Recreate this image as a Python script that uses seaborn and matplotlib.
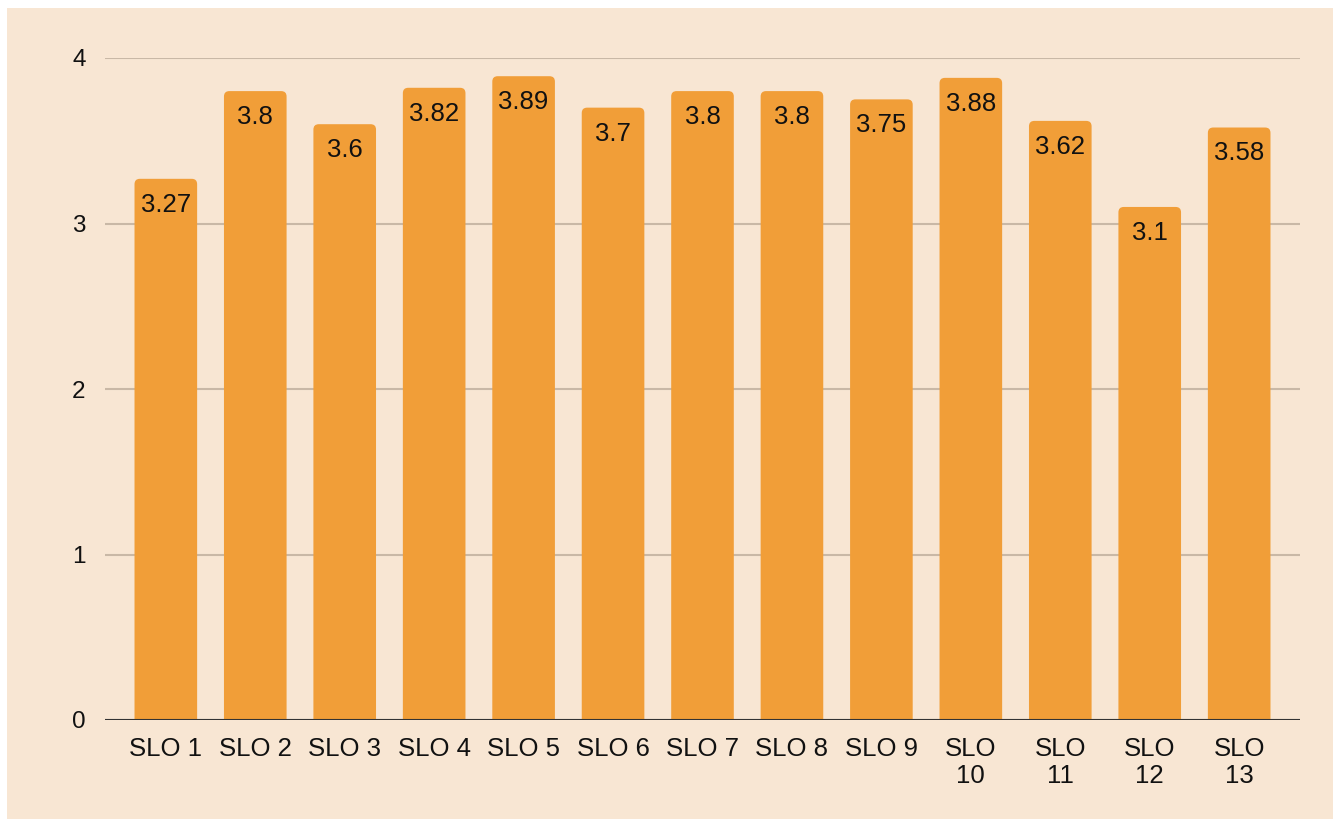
import seaborn as sns
import matplotlib.pyplot as plt
from matplotlib.patches import Rectangle, FancyBboxPatch

slos = ['SLO 1', 'SLO 2', 'SLO 3', 'SLO 4', 'SLO 5', 'SLO 6', 'SLO 7',
        'SLO 8', 'SLO 9', 'SLO\n10', 'SLO\n11', 'SLO\n12', 'SLO\n13']
scores = [3.27, 3.8, 3.6, 3.82, 3.89, 3.7, 3.8, 3.8, 3.75, 3.88, 3.62, 3.1, 3.58]
yticks = [0, 1, 2, 3, 4]

bg = '#F8E6D3'
bar_color = '#F19E38'

sns.set_style('white')
plt.rcParams['font.family'] = ['Liberation Sans', 'DejaVu Sans']

fig = plt.figure(figsize=(13.38, 8.19), dpi=100, facecolor='white')
# beige panel with thin white margin on top/left/right
fig.patches.append(Rectangle((7 / 1338, 0), (1333 - 7) / 1338, (819 - 8) / 819,
                             transform=fig.transFigure, facecolor=bg,
                             edgecolor='none', zorder=-1))
ax = fig.add_axes([105 / 1338, 1 - 720 / 819, (1300 - 105) / 1338, (720 - 58) / 819])
ax.set_facecolor(bg)

sns.barplot(x=slos, y=scores, color=bar_color, saturation=1, width=0.7,
            linewidth=0, ax=ax, zorder=3)

ax.set_ylim(0, 4)
ax.set_xlim(-0.68, 12.68)

# swap plain bars for ones with slightly rounded top corners
for p in list(ax.patches):
    x, w, h = p.get_x(), p.get_width(), p.get_height()
    p.remove()
    ax.add_patch(FancyBboxPatch((x, -0.1), w, h + 0.1,
                                boxstyle='round,pad=0,rounding_size=0.06',
                                mutation_aspect=0.54, facecolor=bar_color,
                                edgecolor='none', zorder=3))

for i, v in enumerate(scores):
    ax.annotate(f'{v:g}', (i, v), xytext=(0, -10), textcoords='offset points',
                ha='center', va='top', fontsize=18.5, color='#111111', zorder=4)

ax.set_yticks(yticks)
ax.yaxis.grid(True, color='#C9B8A6', linewidth=1.5, zorder=0)
ax.set_axisbelow(True)
ax.axhline(0, color='#333333', linewidth=1.5, zorder=5)
for s in ax.spines.values():
    s.set_visible(False)
ax.tick_params(axis='x', length=0, pad=12, labelsize=18.5, colors='#111111')
ax.tick_params(axis='y', length=0, pad=14, labelsize=17.5, colors='#111111')
ax.set_xlabel('')
ax.set_ylabel('')

plt.savefig('out.png', dpi=100, facecolor=fig.get_facecolor())
